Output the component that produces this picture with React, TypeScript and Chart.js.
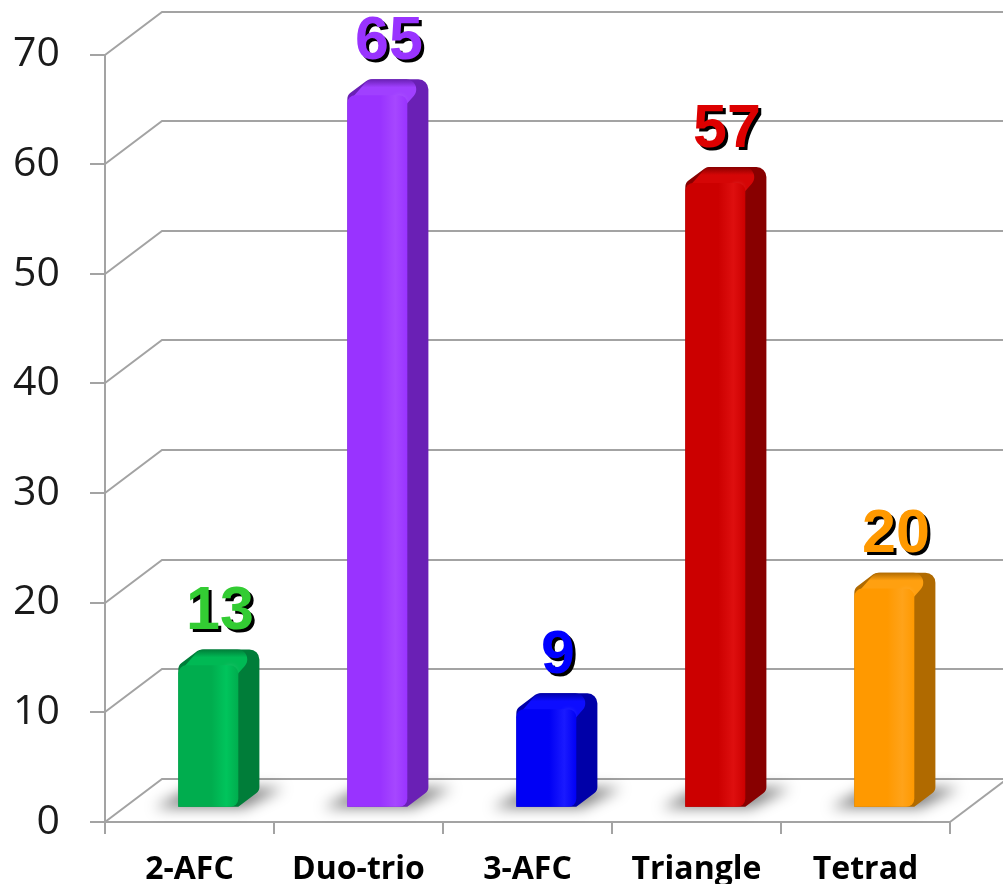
import React, { useEffect, useRef } from 'react';
import { Chart, registerables } from 'chart.js';

Chart.register(...registerables);

// ---- data ----
const categories = ['2-AFC', 'Duo-trio', '3-AFC', 'Triangle', 'Tetrad'];
const values = [13, 65, 9, 57, 20];
const yTicks = [0, 10, 20, 30, 40, 50, 60, 70];

// ---- style ----
const barColors = ['#00ad4e', '#9933ff', '#0000f5', '#cc0000', '#ff9900'];
const barHighlights = ['#00c45c', '#a647ff', '#1a1aff', '#de0f0f', '#ffa31a'];
const sideColors = ['#007d39', '#6a20b5', '#0000a8', '#880000', '#b06a00'];
const topColors = ['#00b954', '#a040ff', '#0d0dff', '#d50606', '#ffa010'];
const labelColors = ['#33cc33', '#9933ff', '#0000ff', '#dd0000', '#ff9900'];

const GRID = '#a3a3a3';
const DX = 57;
const DY = 43;
const F_FRONT = 0.33;
const F_BACK = 0.7;
const BAR_PCT = 0.355;

function roundedPath(ctx: CanvasRenderingContext2D, pts: number[][], r: number[]) {
  const n = pts.length;
  const last = pts[n - 1];
  const first = pts[0];
  ctx.beginPath();
  ctx.moveTo((last[0] + first[0]) / 2, (last[1] + first[1]) / 2);
  for (let i = 0; i < n; i++) {
    const p = pts[i];
    const q = pts[(i + 1) % n];
    ctx.arcTo(p[0], p[1], q[0], q[1], r[i]);
  }
  ctx.closePath();
}

const ok = (...n: number[]) => n.every((v) => Number.isFinite(v));

const threeD = {
  id: 'threeD',
  beforeDatasetsDraw(chart: any) {
    const { ctx, chartArea: a, scales } = chart;
    const ys = scales.y;
    ctx.save();
    ctx.strokeStyle = GRID;
    ctx.lineWidth = 2;
    ys.ticks.forEach((t: any) => {
      const y = Math.round(ys.getPixelForValue(t.value));
      ctx.beginPath();
      ctx.moveTo(a.left, y);
      ctx.lineTo(a.left + DX, y - DY);
      ctx.lineTo(a.right + DX + 10, y - DY);
      ctx.stroke();
    });
    ctx.beginPath();
    ctx.moveTo(a.right, a.bottom);
    ctx.lineTo(a.right + DX, a.bottom - DY);
    ctx.stroke();

    const meta = chart.getDatasetMeta(0);
    const tx = DX * F_FRONT;
    const ty = -DY * F_FRONT;
    const ddx = DX * (F_BACK - F_FRONT);
    const ddy = DY * (F_BACK - F_FRONT);
    meta.data.forEach((el: any, i: number) => {
      const { x, y, base, width } = el.getProps(['x', 'y', 'base', 'width'], true);
      if (!ok(x, y, base, width)) return;
      const xl = x - width / 2 + tx;
      const xr = x + width / 2 + tx;
      const yt = y + ty;
      const yb = base + ty;
      // floor shadow
      ctx.save();
      ctx.filter = 'blur(7px)';
      ctx.fillStyle = 'rgba(0,0,0,0.5)';
      ctx.beginPath();
      ctx.moveTo(xl - 24, yb + 1);
      ctx.lineTo(xr + 6, yb + 1);
      ctx.lineTo(xr + ddx + 24, yb - ddy - 3);
      ctx.lineTo(xl + ddx - 8, yb - ddy - 3);
      ctx.closePath();
      ctx.fill();
      ctx.restore();

      // silhouette / side face
      ctx.fillStyle = sideColors[i];
      roundedPath(
        ctx,
        [
          [xl, yb],
          [xl, yt],
          [xl + ddx, yt - ddy],
          [xr + ddx, yt - ddy],
          [xr + ddx, yb - ddy],
          [xr, yb],
        ],
        [0, 8, 8, 10, 8, 0]
      );
      ctx.fill();

      // top face
      const tg = ctx.createLinearGradient(0, yt - ddy, 0, yt);
      tg.addColorStop(0, sideColors[i]);
      tg.addColorStop(0.5, topColors[i]);
      tg.addColorStop(1, topColors[i]);
      ctx.fillStyle = tg;
      roundedPath(
        ctx,
        [
          [xl, yt + 8],
          [xl + ddx, yt - ddy],
          [xr + ddx, yt - ddy],
          [xr, yt + 8],
        ],
        [0, 10, 10, 0]
      );
      ctx.fill();
      // small highlight spot near front-right top corner
      ctx.save();
      ctx.filter = 'blur(3px)';
      ctx.fillStyle = 'rgba(255,255,255,0.35)';
      ctx.beginPath();
      ctx.arc(xr - 8, yt + 6, 4, 0, Math.PI * 2);
      ctx.fill();
      ctx.restore();
    });
    ctx.restore();

    ctx.save();
    ctx.translate(tx, ty);
  },
  afterDatasetsDraw(chart: any) {
    const { ctx, scales } = chart;
    ctx.restore();
    const ys = scales.y;
    const meta = chart.getDatasetMeta(0);
    ctx.save();
    ctx.font = 'bold 61px "Liberation Sans", Arial, sans-serif';
    ctx.textAlign = 'center';
    ctx.textBaseline = 'alphabetic';
    meta.data.forEach((el: any, i: number) => {
      const { x } = el.getProps(['x'], true);
      if (!ok(x)) return;
      const lx = x + DX * 0.5 + 2;
      const ly = ys.getPixelForValue(values[i]) - DY * 0.5 - 29;
      const txt = String(values[i]);
      ctx.fillStyle = '#000';
      ctx.fillText(txt, lx + 3, ly + 3);
      ctx.fillStyle = labelColors[i];
      ctx.fillText(txt, lx, ly);
    });
    ctx.restore();
  },
};

export default function App() {
  const ref = useRef<HTMLCanvasElement | null>(null);

  useEffect(() => {
    document.body.style.margin = '0';
    const canvas = ref.current;
    if (!canvas) return;
    const chart = new Chart(canvas, {
      type: 'bar',
      data: {
        labels: categories,
        datasets: [
          {
            data: values,
            backgroundColor: (c: any) => {
              const i = c.dataIndex;
              if (i == null) return barColors[0];
              const chart = c.chart;
              const xs = chart.scales && chart.scales.x;
              if (!xs) return barColors[i];
              const cx = xs.getPixelForValue(i);
              const w = (xs.width / categories.length) * BAR_PCT;
              if (!ok(cx, w) || w <= 0) return barColors[i];
              const g = chart.ctx.createLinearGradient(cx - w / 2, 0, cx + w / 2, 0);
              g.addColorStop(0, barColors[i]);
              g.addColorStop(0.55, barColors[i]);
              g.addColorStop(0.8, barHighlights[i]);
              g.addColorStop(1, barColors[i]);
              return g;
            },
            borderWidth: 0,
            borderSkipped: false,
            borderRadius: { topLeft: 8, topRight: 8, bottomLeft: 0, bottomRight: 8 },
            categoryPercentage: 1,
            barPercentage: BAR_PCT,
          },
        ],
      },
      options: {
        animation: false,
        responsive: false,
        layout: { padding: { top: 54, right: 53, left: 0, bottom: 0 } },
        plugins: {
          legend: { display: false },
          tooltip: { enabled: false },
        },
        scales: {
          x: {
            type: 'category',
            offset: true,
            grid: {
              offset: true,
              drawOnChartArea: false,
              tickLength: 12,
              color: GRID,
              lineWidth: 2,
            },
            border: { display: true, color: GRID, width: 2 },
            ticks: {
              color: '#000',
              padding: 17,
              maxRotation: 0,
              font: { family: '"Open Sans", sans-serif', size: 32, weight: 'bold' },
            },
            afterFit: (s: any) => {
              s.height = 62;
            },
          },
          y: {
            min: 0,
            max: 70,
            afterBuildTicks: (s: any) => {
              s.ticks = yTicks.map((v) => ({ value: v }));
            },
            grid: {
              drawOnChartArea: false,
              tickLength: 15,
              color: GRID,
              lineWidth: 2,
            },
            border: { display: true, color: GRID, width: 2 },
            ticks: {
              color: '#1a1a1a',
              padding: 30,
              font: { family: '"Open Sans", sans-serif', size: 41 },
            },
            afterFit: (s: any) => {
              s.width = 105;
            },
          },
        },
      },
      plugins: [threeD],
    });
    return () => chart.destroy();
  }, []);

  return (
    <div style={{ position: 'absolute', left: 0, top: 0, width: 1003, height: 884, background: '#fff' }}>
      <canvas ref={ref} width={1003} height={884} style={{ width: 1003, height: 884, display: 'block' }} />
    </div>
  );
}
